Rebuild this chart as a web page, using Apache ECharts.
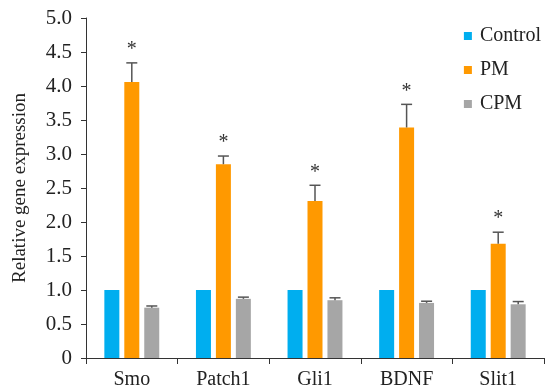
<!DOCTYPE html>
<html><head><meta charset="utf-8">
<script src="https://cdn.jsdelivr.net/npm/echarts@6/dist/echarts.min.js"></script>
<style>html,body{margin:0;padding:0;background:#fff}#c{width:547px;height:388px}</style>
</head><body><div id="c"></div>
<script>
var categories = ['Smo', 'Patch1', 'Gli1', 'BDNF', 'Slit1'];
var controlVals = [1.0, 1.0, 1.0, 1.0, 1.0];
var pmVals = [4.06, 2.85, 2.31, 3.39, 1.68];
var pmErr = [0.28, 0.12, 0.23, 0.34, 0.17];
var cpmVals = [0.74, 0.87, 0.85, 0.81, 0.79];
var cpmErr = [0.025, 0.025, 0.035, 0.025, 0.04];
var pmSig = ['*', '*', '*', '*', '*'];
var yTicks = [0, 0.5, 1.0, 1.5, 2.0, 2.5, 3.0, 3.5, 4.0, 4.5, 5.0];

var FONT = 'Liberation Serif';
var BARW = 15, GAP = 5;

function errSeries(vals, errs, offsetBars, sig) {
  return {
    type: 'custom',
    z: 5,
    data: vals.map(function (v, i) { return [i, v, v + errs[i], sig ? sig[i] : '']; }),
    renderItem: function (params, api) {
      var c0 = api.coord([api.value(0), api.value(1)]);
      var c1 = api.coord([api.value(0), api.value(2)]);
      var x = c0[0] + offsetBars * (BARW + GAP);
      var children = [
        { type: 'line', shape: { x1: x, y1: c0[1], x2: x, y2: c1[1] }, style: { stroke: '#555', lineWidth: 1.5 } },
        { type: 'line', shape: { x1: x - 5.5, y1: c1[1], x2: x + 5.5, y2: c1[1] }, style: { stroke: '#555', lineWidth: 1.5 } }
      ];
      var s = sig ? sig[params.dataIndex] : '';
      if (s) {
        children.push({ type: 'text', style: { text: s, x: x, y: c1[1] - 3, textAlign: 'center', textVerticalAlign: 'bottom', font: '20px "Liberation Serif"', fill: '#333' } });
      }
      return { type: 'group', children: children };
    }
  };
}

var chart = echarts.init(document.getElementById('c'));
chart.setOption({
  animation: false,
  backgroundColor: '#fff',
  grid: { left: 86, right: 3, top: 18, bottom: 30, containLabel: false, outerBoundsMode: 'none' },
  legend: {
    orient: 'vertical', right: 1, top: 21, itemWidth: 8, itemHeight: 8, itemGap: 14,
    icon: 'rect',
    textStyle: { fontFamily: FONT, fontSize: 20, color: '#222', padding: [0, 0, 0, 3] },
    data: ['Control', 'PM', 'CPM']
  },
  xAxis: {
    type: 'category', data: categories,
    axisLine: { lineStyle: { color: '#333', width: 1 } },
    axisTick: { show: true, length: 6, lineStyle: { color: '#333' } },
    axisLabel: { fontFamily: FONT, fontSize: 20, color: '#222', margin: 12 }
  },
  yAxis: {
    type: 'value', min: 0, max: 5, interval: 0.5,
    name: 'Relative gene expression', nameLocation: 'middle', nameGap: 56,
    nameTextStyle: { fontFamily: FONT, fontSize: 19, color: '#222' },
    axisLine: { show: true, lineStyle: { color: '#333', width: 1 } },
    axisTick: { show: true, length: 5, lineStyle: { color: '#333' } },
    splitLine: { show: false },
    axisLabel: {
      fontFamily: FONT, fontSize: 21, color: '#222', margin: 14,
      formatter: function (v) { return v === 0 ? '0' : v.toFixed(1); }
    }
  },
  series: [
    { name: 'Control', type: 'bar', data: controlVals, barWidth: BARW, barGap: '33%', itemStyle: { color: '#00AEEF' } },
    { name: 'PM', type: 'bar', data: pmVals, barWidth: BARW, barGap: '33%', itemStyle: { color: '#FF9900' } },
    { name: 'CPM', type: 'bar', data: cpmVals, barWidth: BARW, barGap: '33%', itemStyle: { color: '#A6A6A6' } },
    errSeries(pmVals, pmErr, 0, pmSig),
    errSeries(cpmVals, cpmErr, 1, null)
  ]
});
</script></body></html>
